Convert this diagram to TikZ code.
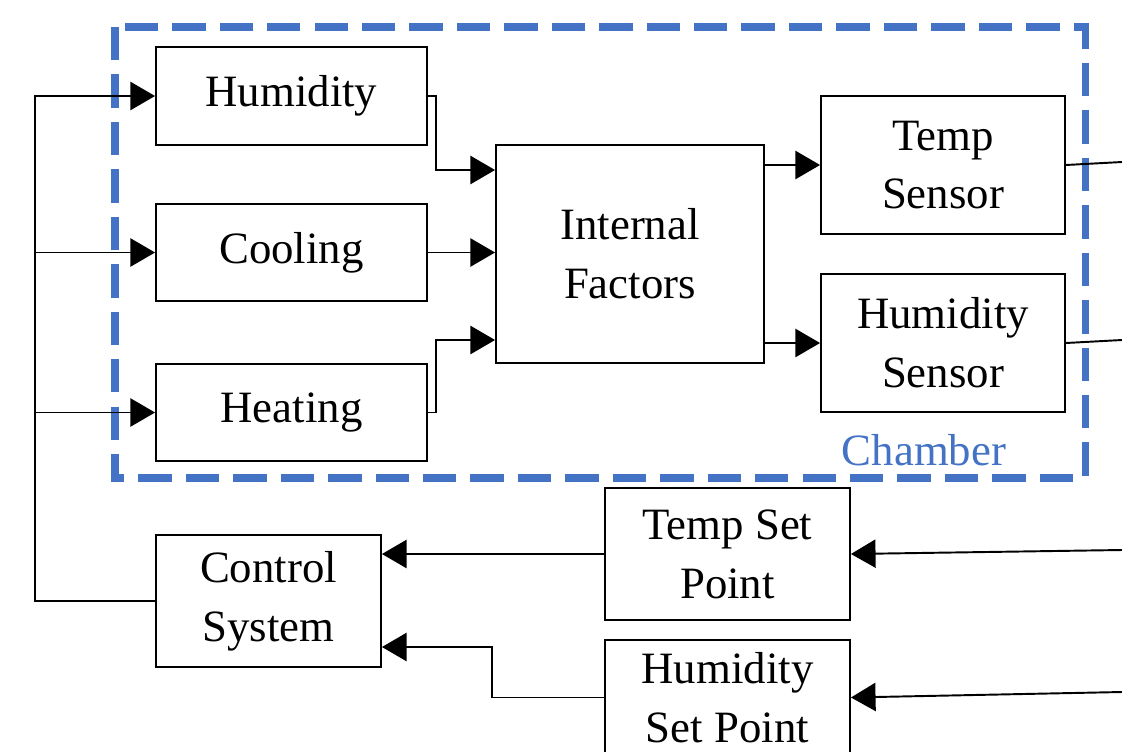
\documentclass[tikz,border=0pt]{standalone}
\usepackage{fontspec}
\setmainfont{Liberation Serif}
\usepackage{xcolor}
\usepackage{tikz}
\usetikzlibrary{arrows.meta,positioning,calc}
\definecolor{chamberblue}{HTML}{4472C4}

\begin{document}
\begin{tikzpicture}[
  x=0.02cm, y=-0.02cm,
  font=\fontsize{25.5}{33.5}\selectfont, >={Triangle[length=14pt, width=16pt]},
  line width=1.1pt,
  blk/.style={draw, align=center, inner sep=0pt, fill=white},
  act/.style={blk, minimum width=5.42cm, minimum height=1.95cm},
  sen/.style={blk, minimum width=4.88cm, minimum height=2.76cm},
  setp/.style={blk, minimum width=4.9cm},
  chamberline/.style={draw=chamberblue, line width=4pt, dash pattern=on 19pt off 8pt}]
\clip (0,0) rectangle (1122,751);
\node[act] (hum) at (291.5,96) {Humidity};
\node[act] (cool) at (291.5,252.5) {Cooling};
\node[act] (heat) at (291.5,412.5) {Heating};
\node[blk, minimum width=5.36cm, minimum height=4.36cm] (intf) at (630,254) {Internal\\Factors};
\node[sen] (tsen) at (943,165) {Temp\\Sensor};
\node[sen] (hsen) at (943,343) {Humidity\\Sensor};
\node[setp, minimum height=2.64cm] (tset) at (727.5,554) {Temp Set\\Point};
\node[setp, minimum height=2.3cm] (hset) at (727.5,697.5) {Humidity\\Set Point};
\node[blk, minimum width=4.5cm, minimum height=2.64cm] (ctrl) at (268.5,601) {Control\\System};
\coordinate (bus) at (35,96);
\coordinate (tout) at (1122,162);
\coordinate (hout) at (1122,340);
\coordinate (tin) at (1122,550);
\coordinate (hin) at (1122,692);
% chamber outline
\draw[chamberline] (115,27) rectangle (1085,478);
\node[text=chamberblue, anchor=base west] (chamb) at (835,465) {Chamber};
% control lines into the chamber
\draw[->] (ctrl.west) -| (bus) -- (hum.west);
\draw[->] (bus |- cool) -- (cool.west);
\draw[->] (bus |- heat) -- (heat.west);
\draw[->] (hum.east) -- ++(8,0) |- ($(intf.west)+(0,-84)$);
\draw[->] (cool.east) -- (intf.west |- cool.east);
\draw[->] (heat.east) -- ++(8,0) |- ($(intf.west)+(0,86)$);
\draw[->] (intf.east |- tsen) -- (tsen.west);
\draw[->] (intf.east |- hsen) -- (hsen.west);
\draw (tsen.east) -- (tout);
\draw (hsen.east) -- (hout);
% set points
\draw[->] (tin) -- (tset.east);
\draw[->] (hin) -- (hset.east);
\draw[->] (tset.west) -- (ctrl.east |- tset.west);
\draw[->] (hset.west) -- ++(-112,0) |- ($(ctrl.east)+(0,46)$);
\end{tikzpicture}
\end{document}
